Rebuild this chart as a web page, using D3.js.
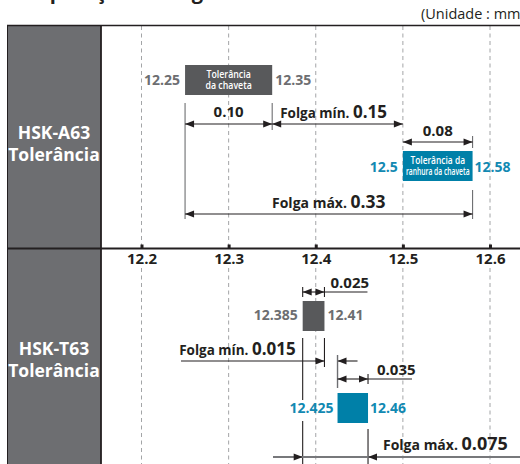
<!DOCTYPE html>
<html>
<head>
<meta charset="utf-8">
<script src="https://cdn.jsdelivr.net/npm/d3@7"></script>
<style>
body { margin: 0; background: #fff; }
svg { display: block; font-family: "Open Sans", sans-serif; }
</style>
</head>
<body>
<svg></svg>
<script>
// values
let tickValues = [12.2, 12.3, 12.4, 12.5, 12.6]
let groups = [["HSK-A63", "Tolerância"], ["HSK-T63", "Tolerância"]]
let keyTol = [[12.25, 12.35], [12.385, 12.41]]
let slotTol = [[12.5, 12.58], [12.425, 12.46]]
let minClear = [0.15, 0.015]
let maxClear = [0.33, 0.075]
let digits = [2, 3]

let width = 520
let height = 464
let ink = "#231f20"
let boxGray = "#58595b"
let textGray = "#6d6e71"
let blue = "#0080a8"
let blueText = "#1289b2"

let svg = d3.select("svg").attr("width", width).attr("height", height)

let x = d3.scaleLinear().domain([12.2, 12.6]).range([141.5, 490])

// cut-off title at the very top
svg.append("text").attr("x", 5).attr("y", -1.5)
    .attr("font-size", 20).attr("font-weight", 700).attr("fill", ink)
    .text("Comparação da folga")

svg.append("text").attr("x", 421).attr("y", 18.5)
    .attr("font-size", 14.5).attr("fill", ink)
    .text("(Unidade : mm)")

// left label panel
svg.append("rect").attr("x", 8).attr("y", 26).attr("width", 93).attr("height", 438)
    .attr("fill", "#6d6e71")
svg.append("line").attr("x1", 7.5).attr("x2", 7.5).attr("y1", 25).attr("y2", 464)
    .attr("stroke", ink).attr("stroke-width", 1)
svg.append("line").attr("x1", 101).attr("x2", 101).attr("y1", 25).attr("y2", 464)
    .attr("stroke", ink).attr("stroke-width", 1.8)

groups.forEach((g, i) => {
    let t = svg.append("text").attr("text-anchor", "middle")
        .attr("fill", "#fff").attr("font-weight", 700).attr("font-size", 17.5)
    t.append("tspan").attr("x", 54).attr("y", i == 0 ? 139 : 355).text(g[0])
    t.append("tspan").attr("x", 54).attr("y", i == 0 ? 161 : 377).text(g[1])
})

// dashed grid
let grid = svg.append("g")
tickValues.forEach(v => {
    [[26, 246], [268, 464]].forEach(r => {
        grid.append("line").attr("x1", x(v)).attr("x2", x(v))
            .attr("y1", r[0]).attr("y2", r[1])
            .attr("stroke", "#8c8e90").attr("stroke-width", 0.8)
            .attr("stroke-dasharray", "4,3.5")
    })
})

// frame lines
svg.append("line").attr("x1", 7).attr("x2", width).attr("y1", 25.5).attr("y2", 25.5)
    .attr("stroke", ink).attr("stroke-width", 1.5)
svg.append("line").attr("x1", 7).attr("x2", width).attr("y1", 248.5).attr("y2", 248.5)
    .attr("stroke", ink).attr("stroke-width", 1.8)

// axis
let axis = svg.append("g").attr("transform", "translate(0,248.5)")
    .call(d3.axisBottom(x).tickValues(tickValues).tickFormat(d3.format(".1f"))
        .tickSize(-4).tickPadding(5))
axis.select(".domain").remove()
axis.selectAll(".tick line").attr("stroke", ink).attr("stroke-width", 3)
axis.selectAll(".tick text").attr("fill", ink).attr("font-size", 15)
    .attr("font-weight", 700).attr("font-family", "Open Sans, sans-serif")

// helpers
let line = (x1, x2, y1, y2, color, w) => {
    svg.append("line").attr("x1", x1).attr("x2", x2).attr("y1", y1).attr("y2", y2)
        .attr("stroke", color || ink).attr("stroke-width", w || 1.1)
}
let head = (tip, y, dir) => {
    svg.append("path")
        .attr("d", d3.line()([[tip, y], [tip - dir * 9, y - 3.5], [tip - dir * 9, y + 3.5]]) + "Z")
        .attr("fill", ink)
}
let dim = (a, b, y) => {
    line(a, b, y, y)
    head(a, y, -1)
    head(b, y, 1)
}
let txt = (px, py, s, size, color, anchor) => {
    return svg.append("text").attr("x", px).attr("y", py)
        .attr("font-size", size).attr("font-weight", 700)
        .attr("fill", color || ink).attr("text-anchor", anchor || "start").text(s)
}
let twoPart = (px, py, a, b, sa, sb, anchor) => {
    let t = svg.append("text").attr("x", px).attr("y", py).attr("fill", ink)
        .attr("font-weight", 700).attr("text-anchor", anchor || "start")
    t.append("tspan").attr("font-size", sa).text(a)
    t.append("tspan").attr("font-size", sb).text(b)
}
let box = (a, b, y, color, lines, fs) => {
    svg.append("rect").attr("x", a).attr("y", y).attr("width", b - a).attr("height", 30)
        .attr("fill", color)
    lines.forEach((l, i) => {
        // condensed look: squeeze the text into the box
        let t = svg.append("text").attr("text-anchor", "middle").attr("fill", "#fff")
            .attr("font-size", fs).attr("font-weight", 600)
            .attr("x", (a + b) / 2).attr("y", y + 12.5 + i * 11).text(l)
        let w = t.node().getComputedTextLength()
        let target = Math.min(w * 0.8, (b - a) - 6)
        t.attr("textLength", target).attr("lengthAdjust", "spacingAndGlyphs")
    })
}

// ---- HSK-A63 ----
{
    let [k0, k1] = keyTol[0].map(x)
    let [s0, s1] = slotTol[0].map(x)
    let f = d3.format("." + digits[0] + "f")
    box(k0, k1, 65, boxGray, ["Tolerância", "da chaveta"], 11)
    txt(k0 - 5, 85, String(keyTol[0][0]), 14, textGray, "end")
    txt(k1 + 3, 85, String(keyTol[0][1]), 14, textGray)

    line(k0, k0, 103, 219, textGray)
    line(k1, k1, 103, 130, textGray)
    dim(k0, k1, 124)
    txt((k0 + k1) / 2, 117, f(keyTol[0][1] - keyTol[0][0]), 15, ink, "middle")
    dim(k1, s0, 124)
    twoPart(k1 + 8, 118, "Folga mín. ", f(minClear[0]), 13.5, 17)

    line(s1, s1, 136, 148, textGray)
    dim(s0, s1, 142)
    txt((s0 + s1) / 2, 136, f(slotTol[0][1] - slotTol[0][0]), 15, ink, "middle")

    box(s0, s1, 151, blue, ["Tolerância da", "ranhura da chaveta"], 10.5)
    txt(s0 - 5, 172, String(slotTol[0][0]), 14, blueText, "end")
    txt(s1 + 2, 172, String(slotTol[0][1]), 14, blueText)

    line(s1, s1, 190, 219, textGray)
    dim(k0, s1, 214)
    twoPart((k0 + s1) / 2, 208, "Folga máx. ", f(maxClear[0]), 14, 17.5, "middle")
}

// ---- HSK-T63 ----
{
    let [k0, k1] = keyTol[1].map(x)
    let [s0, s1] = slotTol[1].map(x)
    let f = d3.format("." + digits[1] + "f")

    line(k0, k0, 287, 297)
    line(k1, k1, 287, 297)
    dim(k0, k1, 292)
    line(k1, k1 + 43, 292, 292)
    txt(k1 + 6, 288, f(keyTol[1][1] - keyTol[1][0]), 15)

    box(k0, k1, 301, boxGray, [], 10)
    txt(k0 - 5, 320, String(keyTol[1][0]), 14, textGray, "end")
    txt(k1 + 3, 320, String(keyTol[1][1]), 14, textGray)

    line(k0, k0, 338, 400)
    line(k0, k0, 421, 464)
    line(k1, k1, 338, 367)
    line(181, k1, 361, 361)
    head(k1, 361, 1)
    line(s0, s0 + 20, 361, 361)
    head(s0, 361, -1)
    twoPart(k0 - 7, 355, "Folga mín. ", f(minClear[1]), 13.5, 17, "end")

    line(s0, s0, 355, 388, textGray, 1.4)
    line(s1, s1, 374, 384)
    dim(s0, s1, 379)
    line(s1, s1 + 44, 379, 379)
    txt(s1 + 9, 375, f(slotTol[1][1] - slotTol[1][0]), 15)

    box(s0, s1, 393, blue, [], 10)
    txt(s0 - 4, 413, String(slotTol[1][0]), 14, blueText, "end")
    txt(s1 + 2, 413, String(slotTol[1][1]), 14, blueText)

    line(s1, s1, 429, 464)
    line(273, width, 457, 457, "#77787b", 2.2)
    head(k0, 457, 1)
    head(s1, 457, -1)
    twoPart(383, 450, "Folga máx. ", f(maxClear[1]), 14, 18)
}
</script>
</body>
</html>
